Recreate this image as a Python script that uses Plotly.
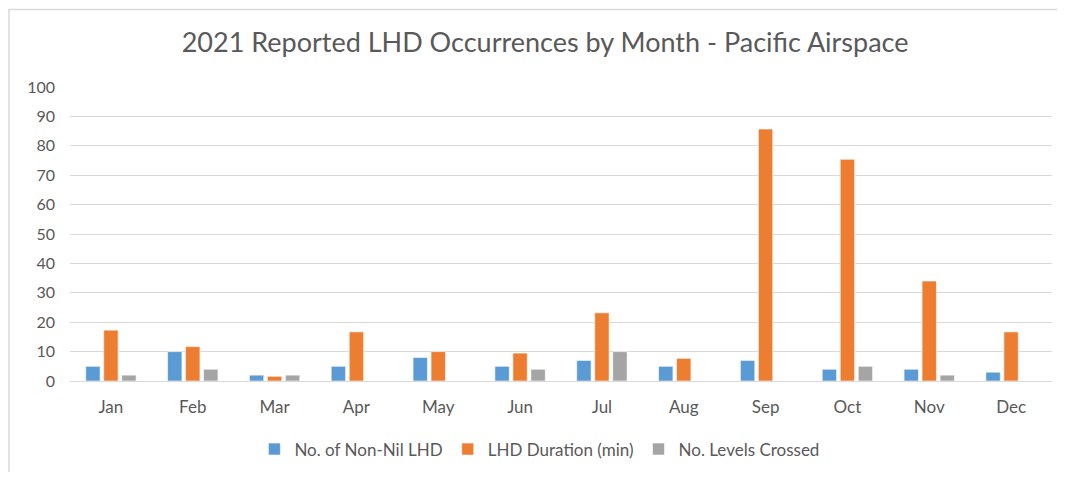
import plotly.graph_objects as go

months = ["Jan", "Feb", "Mar", "Apr", "May", "Jun", "Jul", "Aug", "Sep", "Oct", "Nov", "Dec"]
non_nil_lhd = [5, 10, 2, 5, 8, 5, 7, 5, 7, 4, 4, 3]
lhd_duration = [17.3, 11.7, 1.6, 16.7, 10, 9.5, 23.2, 7.7, 85.7, 75.4, 34, 16.7]
levels_crossed = [2, 4, 2, 0, 0, 4, 10, 0, 0, 5, 2, 0]
y_ticks = [0, 10, 20, 30, 40, 50, 60, 70, 80, 90, 100]

FONT = "Lato, 'Open Sans', sans-serif"
TXT = "#595959"

fig = go.Figure()
fig.add_trace(go.Bar(name="No. of Non-Nil LHD", x=months, y=non_nil_lhd,
                     marker=dict(color="#5B9BD5", line=dict(color="#FFFFFF", width=0.6))))
fig.add_trace(go.Bar(name="LHD Duration (min)", x=months, y=lhd_duration,
                     marker=dict(color="#ED7D31", line=dict(color="#FFFFFF", width=0.6))))
fig.add_trace(go.Bar(name="No. Levels Crossed", x=months, y=levels_crossed,
                     marker=dict(color="#A5A5A5", line=dict(color="#FFFFFF", width=0.6))))

fig.update_layout(
    width=1049, height=464,
    margin=dict(l=62, r=5, t=79, b=89),
    paper_bgcolor="white", plot_bgcolor="white",
    barmode="group", bargap=0.34, bargroupgap=0.2,
    font=dict(family=FONT, color=TXT, size=15),
    title=dict(text="2021 Reported LHD Occurrences by Month - Pacific Airspace",
               x=0.512, xanchor="center", y=1 - 35 / 464, yanchor="middle",
               font=dict(family=FONT, size=27, color=TXT)),
    showlegend=True,
    legend=dict(orientation="h", x=0.478, xanchor="center", y=-0.233, yanchor="middle",
                font=dict(family=FONT, size=17, color=TXT), itemwidth=30,
                traceorder="normal"),
    xaxis=dict(showgrid=False, showline=True, linecolor="#D9D9D9", linewidth=1,
               ticks="", ticklabelstandoff=11, tickfont=dict(size=17)),
    yaxis=dict(range=[0, 100], tickvals=y_ticks, showgrid=True, gridcolor="#D9D9D9",
               gridwidth=1, zeroline=False, showline=False, ticks="",
               ticklabelstandoff=14, tickfont=dict(size=16)),
    shapes=[dict(type="rect", xref="paper", yref="paper",
                 x0=-61 / 982, x1=1.03, y0=-0.4, y1=1 + 78 / 296,
                 line=dict(color="#D9D9D9", width=1.5), fillcolor="rgba(0,0,0,0)",
                 layer="below")],
)

fig.write_html("out.html")
